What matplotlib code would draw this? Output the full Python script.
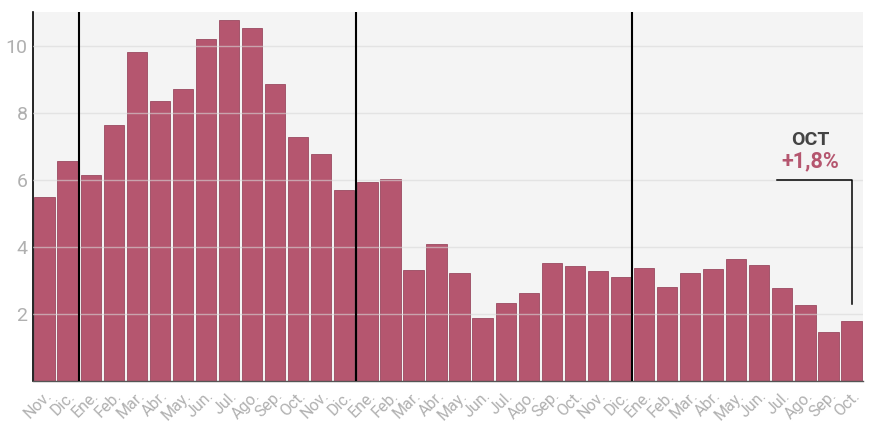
import numpy as np
import matplotlib.pyplot as plt

plt.rcParams['font.family'] = ['Roboto', 'DejaVu Sans']

# meses nov 2021 - oct 2024
meses = ["Nov.", "Dic.",
         "Ene.", "Feb.", "Mar.", "Abr.", "May.", "Jun.", "Jul.", "Ago.", "Sep.", "Oct.", "Nov.", "Dic.",
         "Ene.", "Feb.", "Mar.", "Abr.", "May.", "Jun.", "Jul.", "Ago.", "Sep.", "Oct.", "Nov.", "Dic.",
         "Ene.", "Feb.", "Mar.", "Abr.", "May.", "Jun.", "Jul.", "Ago.", "Sep.", "Oct."]
valores = [5.5, 6.55,
           6.13, 7.62, 9.82, 8.36, 8.72, 10.2, 10.77, 10.54, 8.87, 7.29, 6.76, 5.71,
           5.92, 6.01, 3.3, 4.1, 3.21, 1.88, 2.32, 2.62, 3.51, 3.42, 3.27, 3.1,
           3.36, 2.8, 3.21, 3.33, 3.63, 3.45, 2.77, 2.26, 1.46, 1.8]
cortes_anio = [1.5, 13.5, 25.5]
yticks = [2, 4, 6, 8, 10]

color_barra = "#b5566f"
gris = "#b0b0b0"

fig = plt.figure(figsize=(8.7, 4.25), dpi=100)
ax = fig.add_axes([0.038, 0.1035, 0.954, 0.868])
ax.set_facecolor("#f4f4f4")

x = np.arange(len(valores))
ax.bar(x, valores, width=0.88, color=color_barra, edgecolor="#9a4a60", linewidth=0.6, zorder=2)

# grid encima de las barras, suave
for yv in yticks:
    ax.axhline(yv, color="#d8d8d8", lw=1, alpha=0.6, zorder=3)

for c in cortes_anio:
    ax.axvline(c, color="black", lw=1.5, zorder=4)

ax.set_xlim(-0.5, len(valores) - 0.5)
ax.set_ylim(0, 11)
ax.set_yticks(yticks)
ax.set_yticklabels([str(v) for v in yticks], color=gris, fontsize=14)
ax.set_xticks(x)
ax.set_xticklabels(meses, rotation=45, ha="right", rotation_mode="anchor", color=gris, fontsize=11.5)
ax.tick_params(length=0, pad=4)
ax.tick_params(axis="x", pad=5)

for s in ["top", "right"]:
    ax.spines[s].set_visible(False)
ax.spines["left"].set_color("black")
ax.spines["left"].set_linewidth(1.2)
ax.spines["bottom"].set_color("#555555")
ax.spines["bottom"].set_linewidth(1)

# anotacion ultimo dato
ultimo = len(valores) - 1
ax.plot([31.75, ultimo, ultimo], [6.0, 6.0, 2.3], color="black", lw=1.1, zorder=5)
ax.text(33.2, 7.2, "OCT", color="#444444", fontsize=14, fontweight="bold", ha="center", va="center")
ax.text(33.2, 6.55, "+1,8%", color=color_barra, fontsize=15.5, fontweight="bold", ha="center", va="center")

fig.savefig("out.png", dpi=100)
